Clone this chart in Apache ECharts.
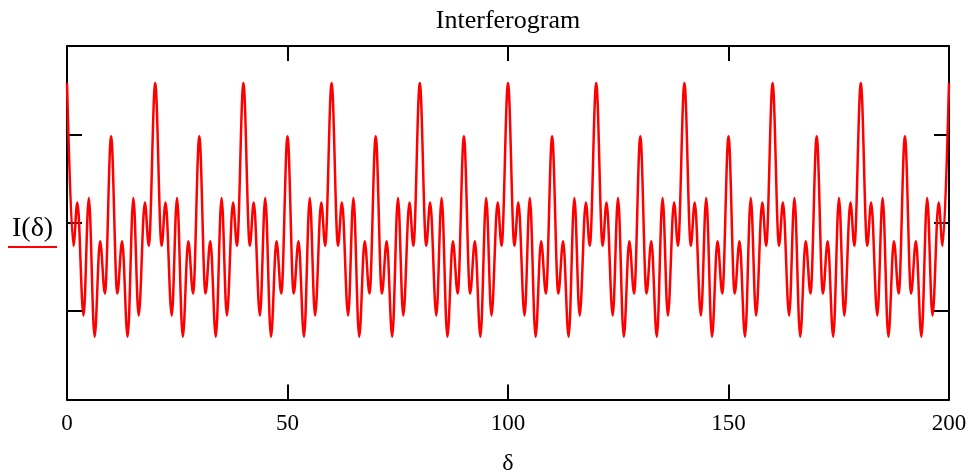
<!DOCTYPE html>
<html>
<head>
<meta charset="utf-8">
<script src="https://cdn.jsdelivr.net/npm/echarts@6/dist/echarts.min.js"></script>
<style>
html,body{margin:0;padding:0;background:#fff;}
#chart{width:974px;height:472px;}
</style>
</head>
<body>
<div id="chart"></div>
<script>
// Extrema of the trace (δ positions)
const delta = [
  0, 1.45, 2.35, 3.75, 4.95, 6.25, 7.5, 8.6, 10, 11.4, 12.5, 13.75, 15.05, 16.25, 17.65, 18.55,
  20, 21.45, 22.35, 23.75, 24.95, 26.25, 27.5, 28.6, 30, 31.4, 32.5, 33.75, 35.05, 36.25, 37.65, 38.55,
  40, 41.45, 42.35, 43.75, 44.95, 46.25, 47.5, 48.6, 50, 51.4, 52.5, 53.75, 55.05, 56.25, 57.65, 58.55,
  60, 61.45, 62.35, 63.75, 64.95, 66.25, 67.5, 68.6, 70, 71.4, 72.5, 73.75, 75.05, 76.25, 77.65, 78.55,
  80, 81.45, 82.35, 83.75, 84.95, 86.25, 87.5, 88.6, 90, 91.4, 92.5, 93.75, 95.05, 96.25, 97.65, 98.55,
  100, 101.45, 102.35, 103.75, 104.95, 106.25, 107.5, 108.6, 110, 111.4, 112.5, 113.75, 115.05, 116.25, 117.65, 118.55,
  120, 121.45, 122.35, 123.75, 124.95, 126.25, 127.5, 128.6, 130, 131.4, 132.5, 133.75, 135.05, 136.25, 137.65, 138.55,
  140, 141.45, 142.35, 143.75, 144.95, 146.25, 147.5, 148.6, 150, 151.4, 152.5, 153.75, 155.05, 156.25, 157.65, 158.55,
  160, 161.45, 162.35, 163.75, 164.95, 166.25, 167.5, 168.6, 170, 171.4, 172.5, 173.75, 175.05, 176.25, 177.65, 178.55,
  180, 181.45, 182.35, 183.75, 184.95, 186.25, 187.5, 188.6, 190, 191.4, 192.5, 193.75, 195.05, 196.25, 197.65, 198.55,
  200
];
// I(δ) values at those positions
const intensity = [
  3.58, 1.74, 2.23, 0.95, 2.28, 0.71, 1.79, 1.20, 2.98, 1.20, 1.79, 0.71, 2.28, 0.95, 2.23, 1.74,
  3.58, 1.74, 2.23, 0.95, 2.28, 0.71, 1.79, 1.20, 2.98, 1.20, 1.79, 0.71, 2.28, 0.95, 2.23, 1.74,
  3.58, 1.74, 2.23, 0.95, 2.28, 0.71, 1.79, 1.20, 2.98, 1.20, 1.79, 0.71, 2.28, 0.95, 2.23, 1.74,
  3.58, 1.74, 2.23, 0.95, 2.28, 0.71, 1.79, 1.20, 2.98, 1.20, 1.79, 0.71, 2.28, 0.95, 2.23, 1.74,
  3.58, 1.74, 2.23, 0.95, 2.28, 0.71, 1.79, 1.20, 2.98, 1.20, 1.79, 0.71, 2.28, 0.95, 2.23, 1.74,
  3.58, 1.74, 2.23, 0.95, 2.28, 0.71, 1.79, 1.20, 2.98, 1.20, 1.79, 0.71, 2.28, 0.95, 2.23, 1.74,
  3.58, 1.74, 2.23, 0.95, 2.28, 0.71, 1.79, 1.20, 2.98, 1.20, 1.79, 0.71, 2.28, 0.95, 2.23, 1.74,
  3.58, 1.74, 2.23, 0.95, 2.28, 0.71, 1.79, 1.20, 2.98, 1.20, 1.79, 0.71, 2.28, 0.95, 2.23, 1.74,
  3.58, 1.74, 2.23, 0.95, 2.28, 0.71, 1.79, 1.20, 2.98, 1.20, 1.79, 0.71, 2.28, 0.95, 2.23, 1.74,
  3.58, 1.74, 2.23, 0.95, 2.28, 0.71, 1.79, 1.20, 2.98, 1.20, 1.79, 0.71, 2.28, 0.95, 2.23, 1.74,
  3.58
];
const xTicks = [0, 50, 100, 150, 200];

const FONT = '"Liberation Serif", "Times New Roman", serif';
const data = delta.map((d, i) => [d, intensity[i]]);

const chart = echarts.init(document.getElementById('chart'), null, {renderer: 'canvas'});
const axisLine = {show: true, onZero: false, lineStyle: {color: '#000', width: 2}};
const tick = {show: true, inside: true, length: 15, lineStyle: {color: '#000', width: 2}};

chart.setOption({
  animation: false,
  backgroundColor: '#fff',
  title: {
    text: 'Interferogram',
    left: 503, top: 3, textAlign: 'center',
    textStyle: {fontFamily: FONT, fontSize: 26, fontWeight: 'normal', color: '#000'}
  },
  grid: {left: 67, right: 25, top: 46, bottom: 72.5, containLabel: false, outerBoundsMode: 'none'},
  xAxis: [
    {
      type: 'value', min: 0, max: 200, interval: 50, position: 'bottom',
      axisLine: axisLine, axisTick: tick, splitLine: {show: false},
      axisLabel: {
        margin: 13, color: '#000', fontFamily: FONT, fontSize: 23,
        formatter: v => xTicks.includes(v) ? String(v) : ''
      },
      name: 'δ', nameLocation: 'middle', nameGap: 52,
      nameTextStyle: {fontFamily: FONT, fontSize: 24, color: '#000'}
    },
    {
      type: 'value', min: 0, max: 200, interval: 50, position: 'top',
      axisLine: axisLine, axisTick: tick, splitLine: {show: false}, axisLabel: {show: false}
    }
  ],
  yAxis: [
    {
      type: 'value', min: 0, max: 4, interval: 1, position: 'left',
      axisLine: axisLine, axisTick: tick, splitLine: {show: false}, axisLabel: {show: false}
    },
    {
      type: 'value', min: 0, max: 4, interval: 1, position: 'right',
      axisLine: axisLine, axisTick: tick, splitLine: {show: false}, axisLabel: {show: false}
    }
  ],
  graphic: [
    {type: 'text', left: 12, top: 215, style: {text: 'I(δ)', font: '28px ' + FONT, fill: '#000'}},
    {type: 'line', shape: {x1: 8, y1: 247, x2: 57, y2: 247}, style: {stroke: '#ff0000', lineWidth: 2}}
  ],
  series: [
    {
      type: 'line', xAxisIndex: 0, yAxisIndex: 0, data: data,
      smooth: 0.36, smoothMonotone: 'x', showSymbol: false, clip: true,
      lineStyle: {color: '#ff0000', width: 2.5}
    }
  ]
});
</script>
</body>
</html>
